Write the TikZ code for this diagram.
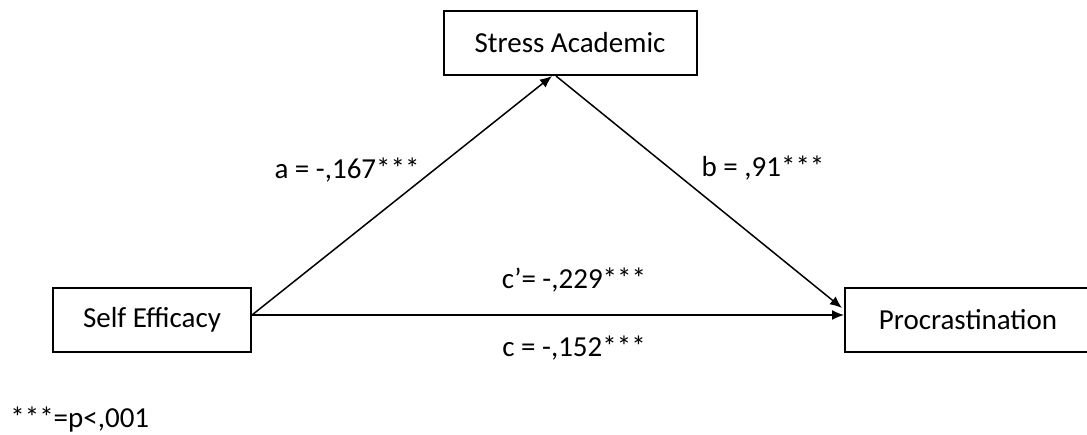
\documentclass[tikz,border=0pt]{standalone}
\usepackage{fontspec}
\setmainfont{Carlito}
\usetikzlibrary{arrows,arrows.meta}
\usetikzlibrary{calc}
\tikzset{>=latex}
\tikzstyle{var} = [draw, line width = 1pt, minimum height = 32pt, inner sep = 0pt]
\tikzstyle{link} = [%
					line width = 0.75pt,
					->, >={Latex[length=6pt,width=5pt]}
					]

\begin{document}
\begin{tikzpicture}[x=0.5pt,y=-0.5pt,font=\fontsize{14.5}{17}\selectfont]
    % canvas, same size as the figure
    \useasboundingbox (0,0) rectangle (1087,434);

    % the three variables
    \node[var, minimum width=126.5pt] (stress) at (570,43)  {Stress Academic};
    \node[var, minimum width=99pt]    (self)   at (152,320) {Self Efficacy};
    \node[var, minimum width=123pt]   (procr)  at (968,320) {Procrastination};

    % paths a, b and c
    \draw[link] ([yshift=2.5pt]self.east) -- ([xshift=-9pt]stress.south);
    \draw[link] ([xshift=-7pt]stress.south) -- ([xshift=-1pt,yshift=6pt]procr.west);
    \draw[link] ([yshift=2.5pt]self.east) -- ([yshift=2.5pt]procr.west);

    % coefficients
    \node (la)  at (347,170) {a = -,167***};
    \node (lb)  at (763,168) {b = ,91***};
    \node (lcp) at (574,280) {c’= -,229***};
    \node (lc)  at (574,348) {c = -,152***};

    % note
    \node[anchor=west, inner sep=0pt] (note) at (10,420) {***=p<,001};
\end{tikzpicture}
\end{document}
